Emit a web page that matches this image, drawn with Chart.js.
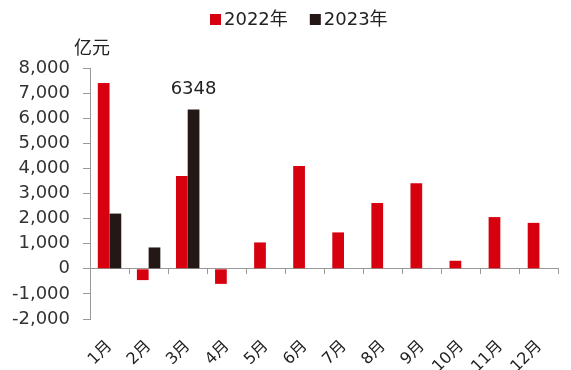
<!DOCTYPE html>
<html><head><meta charset="utf-8">
<script src="https://cdn.jsdelivr.net/npm/chart.js@4/dist/chart.umd.min.js"></script>
<style>html,body{margin:0;padding:0;background:#fff}#wrap{width:571px;height:370px}</style>
</head><body><div id="wrap"><canvas id="c" width="571" height="370"></canvas></div>
<script>
const months = ['1月','2月','3月','4月','5月','6月','7月','8月','9月','10月','11月','12月'];
const values2022 = [7400, -450, 3700, -600, 1050, 4100, 1450, 2620, 3410, 320, 2060, 1830];
const values2023 = [2200, 850, 6348, null, null, null, null, null, null, null, null, null];
const seriesNames = ['2022年', '2023年'];
const seriesColors = ['#d7000f', '#231815'];
const unitLabel = '亿元';
const yMin = -2000, yMax = 8000, yStep = 1000;

const FONT = "'DejaVu Sans', 'Noto Sans CJK SC', sans-serif";

const extras = {
  id: 'extras',
  afterDraw(chart) {
    const ctx = chart.ctx;
    ctx.save();
    ctx.fillStyle = '#222';
    ctx.font = '18px ' + FONT;
    ctx.textBaseline = 'middle';
    // legend
    let x = 210;
    chart.data.datasets.forEach((ds) => {
      ctx.fillStyle = ds.backgroundColor;
      ctx.fillRect(x, 14, 11, 11);
      x += 14;
      ctx.fillStyle = '#222';
      ctx.textAlign = 'left';
      ctx.fillText(ds.label, x, 20);
      x += ctx.measureText(ds.label).width + 22;
    });
    ctx.textAlign = 'center';
    ctx.fillText(unitLabel, 92, 49);
    const meta = chart.getDatasetMeta(1);
    const el = meta.data[2];
    ctx.fillText(String(values2023[2]), el.x, el.y - 20);
    ctx.restore();
  }
};

new Chart(document.getElementById('c'), {
  type: 'bar',
  data: {
    labels: months,
    datasets: [
      { label: seriesNames[0], data: values2022, backgroundColor: seriesColors[0], categoryPercentage: 0.6, barPercentage: 1.0 },
      { label: seriesNames[1], data: values2023, backgroundColor: seriesColors[1], categoryPercentage: 0.6, barPercentage: 1.0 }
    ]
  },
  options: {
    responsive: false,
    animation: false,
    layout: { padding: { left: 0, right: -3, top: 68, bottom: 0 } },
    plugins: {
      legend: { display: false },
      tooltip: { enabled: false }
    },
    scales: {
      x: {
        type: 'category',
        position: 'bottom',
        grid: { display: false, drawTicks: false },
        border: { display: false },
        ticks: { minRotation: 45, maxRotation: 45, color: '#222', font: { family: FONT, size: 16 }, padding: 18 },
        afterFit(scale) { scale.height = 51; }
      },
      x2: {
        type: 'category',
        labels: months,
        position: { y: 0 },
        grid: { offset: true, drawOnChartArea: false, drawTicks: true, tickLength: 5, color: '#999' },
        border: { display: true, color: '#999', width: 1 },
        ticks: { display: false }
      },
      y: {
        min: yMin, max: yMax,
        grid: { drawOnChartArea: false, drawTicks: true, tickLength: 7, color: '#999' },
        border: { display: true, color: '#999' },
        ticks: { stepSize: yStep, color: '#333', font: { family: FONT, size: 18 }, padding: 13 },
        afterFit(scale) { scale.width = 90; }
      }
    }
  },
  plugins: [extras]
});
</script>
</body></html>
